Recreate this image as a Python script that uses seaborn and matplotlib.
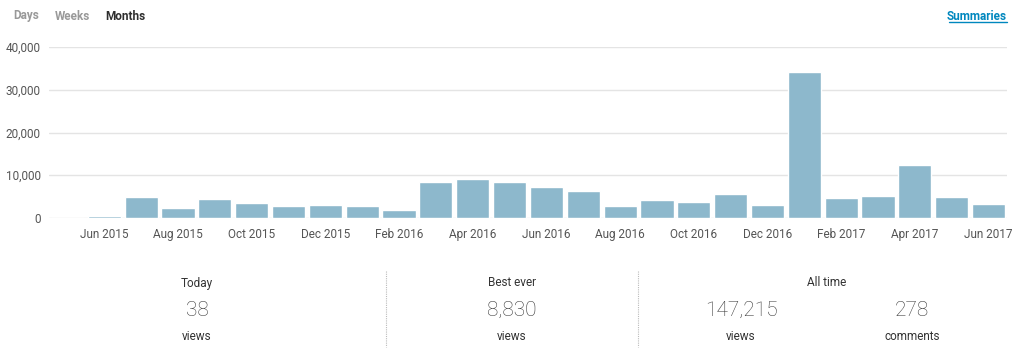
import matplotlib
matplotlib.use("Agg")
import matplotlib.pyplot as plt
import seaborn as sns
import pandas as pd
from matplotlib.lines import Line2D
from matplotlib.ticker import FuncFormatter

# monthly views, May 2015 - Jun 2017
months = [
    "May 2015", "Jun 2015", "Jul 2015", "Aug 2015", "Sep 2015", "Oct 2015",
    "Nov 2015", "Dec 2015", "Jan 2016", "Feb 2016", "Mar 2016", "Apr 2016",
    "May 2016", "Jun 2016", "Jul 2016", "Aug 2016", "Sep 2016", "Oct 2016",
    "Nov 2016", "Dec 2016", "Jan 2017", "Feb 2017", "Mar 2017", "Apr 2017",
    "May 2017", "Jun 2017",
]
views = [
    0, 450, 4800, 2450, 4330, 3500,
    2800, 2970, 2880, 1950, 8500, 9050,
    8350, 7250, 6240, 2880, 4200, 3670,
    5690, 2970, 34200, 4600, 5220, 12300,
    4840, 3200,
]
tab_labels = ["Days", "Weeks", "Months"]
stat_titles = ["Today", "Best ever", "All time"]
stat_values = ["38", "8,830", "147,215", "278"]
stat_units = ["views", "views", "views", "comments"]

BAR = "#8db8cc"
GRID = "#e4e4e4"
TXT = "#555555"

sns.set_theme(style="white")
plt.rcParams["font.family"] = ["Roboto", "DejaVu Sans"]

df = pd.DataFrame({"month": months, "views": views})

fig = plt.figure(figsize=(10.24, 3.61), dpi=100)
ax = fig.add_axes([49 / 1024, (361 - 218) / 361, 958 / 1024, 171 / 361])

sns.barplot(data=df, x="month", y="views", color=BAR, width=0.9,
            saturation=1, ax=ax)

ax.set_xlim(-0.5, len(months) - 0.5)
ax.set_ylim(0, 40000)
ax.set_yticks([0, 10000, 20000, 30000, 40000])
ax.yaxis.set_major_formatter(FuncFormatter(lambda v, p: f"{int(v):,}"))
ticks = list(range(1, len(months), 2))
ax.set_xticks(ticks)
ax.set_xticklabels([months[i] for i in ticks])
ax.set_xlabel("")
ax.set_ylabel("")
ax.tick_params(axis="both", length=0, labelsize=8.5, labelcolor=TXT)
ax.tick_params(axis="x", pad=7)
ax.tick_params(axis="y", pad=6)
ax.grid(axis="y", color=GRID, linewidth=1)
ax.set_axisbelow(True)
for s in ax.spines.values():
    s.set_visible(False)

# tabs on top
tab_x = [13, 55, 105]
tab_colors = ["#999999", "#999999", "#2e2e2e"]
for lbl, x, c in zip(tab_labels, tab_x, tab_colors):
    fig.text(x / 1024, 1 - 16 / 361, lbl, fontsize=8.5, color=c,
             fontweight="bold", va="center", ha="left")

fig.text(1007 / 1024, 1 - 16 / 361, "Summaries", fontsize=8.5,
         color="#0087be", fontweight="bold", va="center", ha="right")
fig.add_artist(Line2D([949 / 1024, 1007 / 1024], [1 - 22 / 361, 1 - 22 / 361],
                      color="#0087be", linewidth=1))

# summary stats
title_x = [197, 512, 827]
for t, x in zip(stat_titles, title_x):
    fig.text(x / 1024, 1 - 283 / 361, t, fontsize=8.5, color="#333333",
             ha="center", va="center")

value_x = [197, 512, 741, 912]
for v, u, x in zip(stat_values, stat_units, value_x):
    fig.text(x / 1024, 1 - 310 / 361, v, fontsize=15, color="#3a3a3a",
             fontweight="light", ha="center", va="center")
    fig.text(x / 1024, 1 - 336 / 361, u, fontsize=8.5, color="#333333",
             ha="center", va="center")

for x in [386, 638]:
    fig.add_artist(Line2D([x / 1024, x / 1024], [1 - 271 / 361, 1 - 347 / 361],
                          color="#bbbbbb", linewidth=0.8, linestyle=(0, (1, 1))))

fig.savefig("out.png", dpi=100, facecolor="white")
